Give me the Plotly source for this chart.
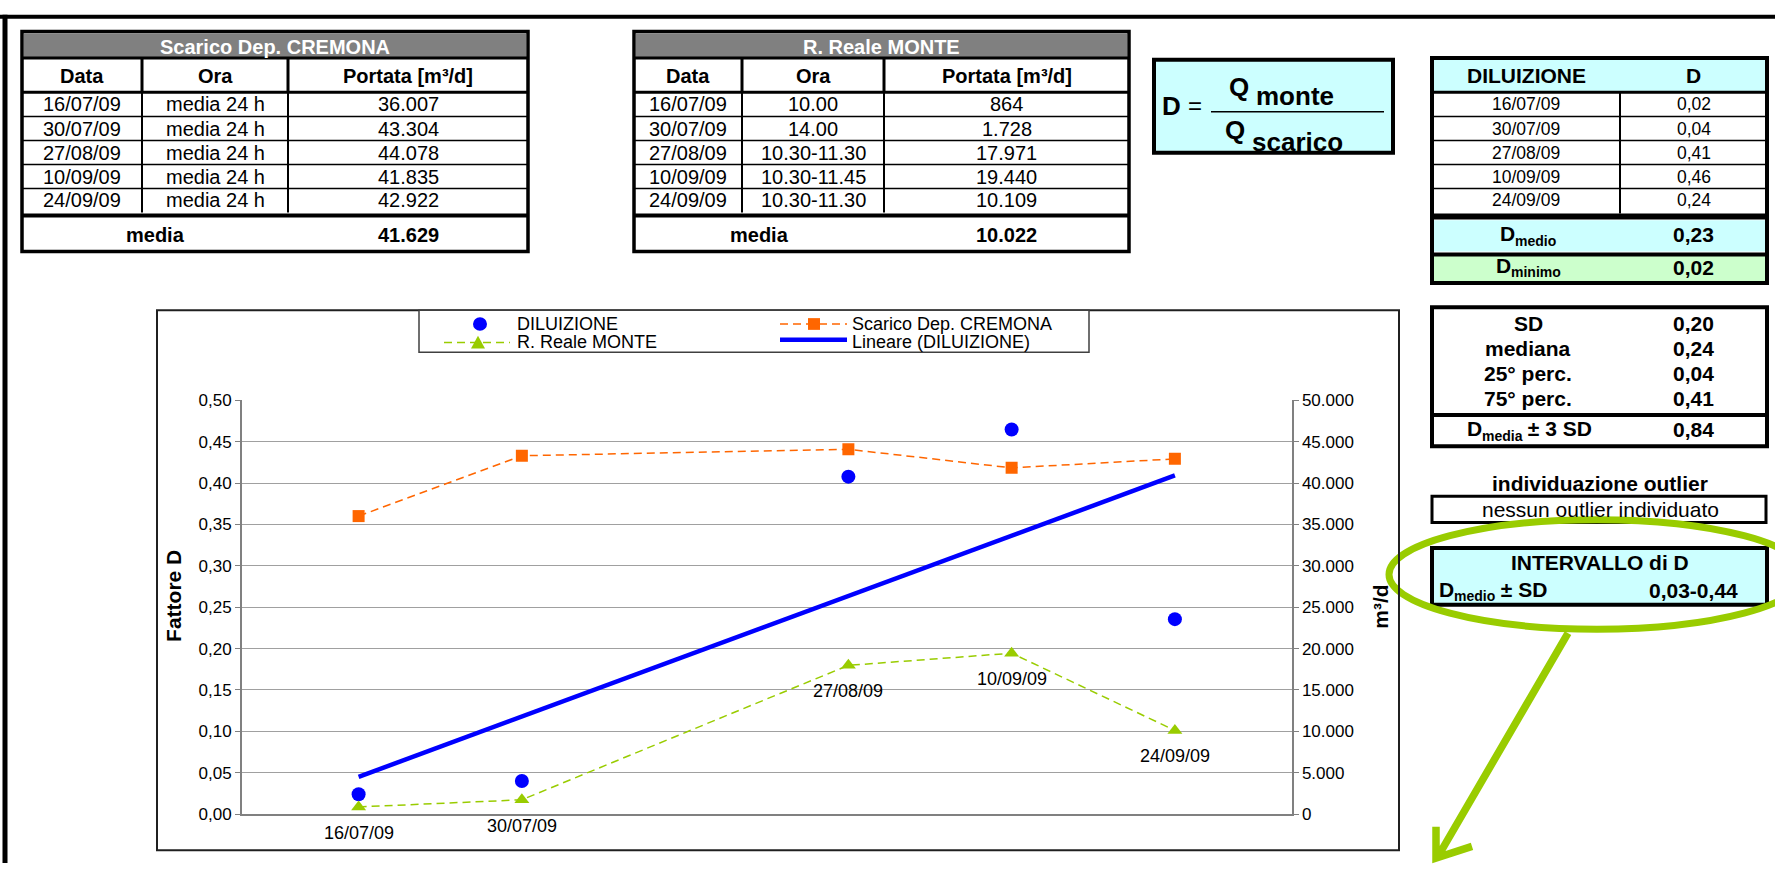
import numpy as np
import pandas as pd
import plotly.graph_objects as go

# ---------------------------------------------------------------- data
sample_dates = ["2009-07-16", "2009-07-30", "2009-08-27", "2009-09-10", "2009-09-24"]
date_labels = ["16/07/09", "30/07/09", "27/08/09", "10/09/09", "24/09/09"]

scarico_ora = ["media 24 h", "media 24 h", "media 24 h", "media 24 h", "media 24 h"]
scarico_portata = [36007, 43304, 44078, 41835, 42922]          # m3/d

monte_ora = ["10.00", "14.00", "10.30-11.30", "10.30-11.45", "10.30-11.30"]
monte_portata = [864, 1728, 17971, 19440, 10109]               # m3/d

stat_names = ["SD", "mediana", "25° perc.", "75° perc."]

left_ticks = [0.0, 0.05, 0.10, 0.15, 0.20, 0.25, 0.30, 0.35, 0.40, 0.45, 0.50]
right_ticks = [0, 5000, 10000, 15000, 20000, 25000, 30000, 35000, 40000, 45000, 50000]

# ------------------------------------------------------- derived values
q_sc = np.array(scarico_portata, dtype=float)
q_mo = np.array(monte_portata, dtype=float)
dil = q_mo / q_sc                                   # D = Q monte / Q scarico

dts = pd.to_datetime(sample_dates)
days = np.array([(d - dts[0]).days for d in dts], dtype=float)
slope, intercept = np.polyfit(days, dil, 1)         # linear trend of D
trend_x = [sample_dates[0], sample_dates[-1]]
trend_y = [intercept + slope * days[0], intercept + slope * days[-1]]

d_mean = dil.mean()
d_sd = dil.std(ddof=1)
stat_vals = [d_sd, np.median(dil), np.percentile(dil, 25), np.percentile(dil, 75)]
d_lim = d_mean + 3 * d_sd


def dec(v, n=2):
    return f"{v:.{n}f}".replace(".", ",")


def thou(v):
    return f"{int(round(v)):,}".replace(",", ".")


# ------------------------------------------------------ page geometry
W, H = 1775, 873
FONT = "Liberation Sans, Arial, sans-serif"
shapes, annotations = [], []

# Arial-bold advance widths (em) for the subscripted labels
BOLD_EM = {"D": .722, " ": .278, "±": .584, "3": .556, "S": .667, "m": .889, "e": .556,
           "d": .611, "i": .278, "o": .611, "n": .611, "a": .556}


def em_width(text, size):
    return sum(BOLD_EM.get(c, .6) for c in text) * size


def X(px):
    return px / W


def Y(py):
    return 1 - py / H


def box(x0, y0, x1, y1, fill=None, line="black", lw=0):
    shapes.append(dict(type="rect", xref="paper", yref="paper",
                       x0=X(x0), x1=X(x1), y0=Y(y1), y1=Y(y0),
                       fillcolor=fill or "rgba(0,0,0,0)",
                       line=dict(color=line, width=lw), layer="above"))


def seg(x0, y0, x1, y1, lw=1.5, color="black", dash=None):
    shapes.append(dict(type="line", xref="paper", yref="paper",
                       x0=X(x0), y0=Y(y0), x1=X(x1), y1=Y(y1),
                       line=dict(color=color, width=lw, dash=dash)))


def label(x, y, text, size, bold=False, color="black", xanchor="center", angle=0):
    annotations.append(dict(xref="paper", yref="paper", x=X(x), y=Y(y),
                            text=f"<b>{text}</b>" if bold else text,
                            showarrow=False, xanchor=xanchor, yanchor="middle",
                            textangle=angle,
                            font=dict(size=size, color=color, family=FONT)))


def d_label(x, y, sub, tail="", size=21, sub_size=14, anchor="center"):
    """Bold 'D' with a lowered, smaller qualifier and optional trailing text."""
    total = em_width("D", size) + em_width(sub, sub_size) + em_width(tail, size)
    left = x - total / 2 if anchor == "center" else x
    label(left, y, "D", size, bold=True, xanchor="left")
    sx = left + em_width("D", size)
    label(sx, y + 7, sub, sub_size, bold=True, xanchor="left")
    if tail:
        label(sx + em_width(sub, sub_size), y, tail.replace(" ", "\u00a0"), size,
              bold=True, xanchor="left")


# page frame
seg(0, 8, W, 8, lw=4)
seg(5, 6, 5, H, lw=5)

# ------------------------------------------------------ flow tables
ROWS = [85, 110, 134.5, 159, 183.5, 208]


def flow_table(cols, title, ora, portata):
    x0, x1 = cols[0], cols[-1]
    box(x0, 23, x1, 249, fill="white")
    box(x0 + 2, 25, x1 - 2, 50, fill="#808080")
    label((x0 + x1) / 2, 38.5, title, 20, bold=True, color="white")
    seg(x0, 50, x1, 50, lw=3)
    heads = ["Data", "Ora", "Portata [m³/d]"]
    for i, h in enumerate(heads):
        label((cols[i] + cols[i + 1]) / 2, 68, h, 20, bold=True)
    seg(x0, ROWS[0], x1, ROWS[0], lw=3)
    for xc in cols[1:-1]:
        seg(xc, 50, xc, ROWS[0], lw=3)
        seg(xc, ROWS[0], xc, ROWS[-1], lw=2)
    for r in range(5):
        yc = (ROWS[r] + ROWS[r + 1]) / 2
        cells = [date_labels[r], ora[r], thou(portata[r])]
        for i, c in enumerate(cells):
            label((cols[i] + cols[i + 1]) / 2, yc, c, 20)
        if r < 4:
            seg(x0, ROWS[r + 1], x1, ROWS[r + 1], lw=1.5)
    seg(x0, 211, x1, 211, lw=4)
    label((cols[0] + cols[2]) / 2, 231, "media", 20, bold=True)
    label((cols[2] + cols[3]) / 2, 231, thou(np.mean(portata)), 20, bold=True)
    box(x0, 23, x1, 248, line="black", lw=3.5)


flow_table([22, 142, 288, 528], "Scarico Dep. CREMONA", scarico_ora, scarico_portata)
flow_table([634, 742, 884, 1129], "R. Reale MONTE", monte_ora, monte_portata)

# ------------------------------------------------------ formula box
box(1154, 52, 1393, 147, fill="#CCFFFF", line="black", lw=4)
label(1171, 99, "D", 26, bold=True)
label(1195, 99, "=", 24)
seg(1211, 105, 1384, 105, lw=1.5)
label(1239, 80, "Q", 26, bold=True)
label(1254, 89, "monte", 26, bold=True, xanchor="left")
label(1235, 124, "Q", 26, bold=True)
label(1250, 136, "scarico", 26, bold=True, xanchor="left")

# ------------------------------------------------------ dilution table
T3 = [1432, 1620, 1767]
C1, C2 = (T3[0] + T3[1]) / 2, (T3[1] + T3[2]) / 2
box(T3[0], 50, T3[2], 84, fill="#CCFFFF")
label(C1, 68, "DILUIZIONE", 21, bold=True)
label(C2, 68, "D", 21, bold=True)
seg(T3[0], 85, T3[2], 85, lw=3)
seg(T3[1], 85, T3[1], 209, lw=2)
for r in range(5):
    yc = (ROWS[r] + ROWS[r + 1]) / 2
    label(C1, yc, date_labels[r], 17.5)
    label(C2, yc, dec(dil[r]), 17.5)
    if r < 4:
        seg(T3[0], ROWS[r + 1], T3[2], ROWS[r + 1], lw=1.5)
box(T3[0], 216, T3[2], 248, fill="#CCFFFF")
seg(T3[0], 212, T3[2], 212, lw=6)
d_label(C1, 230, "medio")
label(C2, 231, dec(d_mean), 21, bold=True)
box(T3[0], 252, T3[2], 279, fill="#CCFFCC")
seg(T3[0], 251, T3[2], 251, lw=4)
d_label(C1, 262, "minimo")
label(C2, 264, dec(dil.min()), 21, bold=True)
box(T3[0], 50, T3[2], 280, line="black", lw=4)

# ------------------------------------------------------ statistics box
box(T3[0], 305, T3[2], 447, fill="white", line="black", lw=4)
for i, (nm, v) in enumerate(zip(stat_names, stat_vals)):
    yc = 322 + i * 25.3
    label(1528, yc, nm, 21, bold=True)
    label(C2, yc, dec(v), 21, bold=True)
seg(T3[0], 415, T3[2], 415, lw=4)
d_label(1528, 429, "media", " ± 3 SD")
label(C2, 430, dec(d_lim), 21, bold=True)

label(1600, 485, "individuazione outlier", 21, bold=True)
box(T3[0], 498, 1766, 525, fill="white", line="black", lw=3)
label(1600, 512, "nessun outlier individuato", 21)

box(T3[0], 551, T3[2], 609, fill="#CCFFFF", line="black", lw=4)
label(1600, 566, "INTERVALLO di D", 21, bold=True)
d_label(1437, 593, "medio", " ± SD", anchor="left")
label(1693, 594, f"{dec(d_mean - d_sd)}-{dec(d_mean + d_sd)}", 21, bold=True)

# highlight ellipse and pointer
GREEN = "#99CC00"
shapes.append(dict(type="circle", xref="paper", yref="paper",
                   x0=X(1389), x1=X(1805), y0=Y(634), y1=Y(522),
                   line=dict(color=GREEN, width=7), layer="above"))
shapes.append(dict(type="path", xref="paper", yref="paper",
                   path=(f"M {X(1568)},{Y(638)} L {X(1437)},{Y(868)} "
                         f"M {X(1436)},{Y(836)} L {X(1436)},{Y(868)} L {X(1472)},{Y(856)}"),
                   line=dict(color=GREEN, width=7.5), layer="above"))

# ------------------------------------------------------ chart
BLUE, ORANGE = "#0000FF", "#FF6600"
box(157, 308, 1399, 860, line="#202020", lw=2)

fig = go.Figure()
fig.add_trace(go.Scatter(x=sample_dates, y=dil, mode="markers", name="DILUIZIONE",
                         marker=dict(symbol="circle", size=14, color=BLUE),
                         yaxis="y", showlegend=False))
fig.add_trace(go.Scatter(x=trend_x, y=trend_y, mode="lines", name="Lineare (DILUIZIONE)",
                         line=dict(color=BLUE, width=4.5), yaxis="y", showlegend=False))
fig.add_trace(go.Scatter(x=sample_dates, y=scarico_portata, mode="lines+markers",
                         name="Scarico Dep. CREMONA",
                         line=dict(color=ORANGE, width=1.5, dash="8px,5px"),
                         marker=dict(symbol="square", size=12, color=ORANGE),
                         yaxis="y2", showlegend=False))
fig.add_trace(go.Scatter(x=sample_dates, y=monte_portata, mode="lines+markers",
                         name="R. Reale MONTE",
                         line=dict(color=GREEN, width=1.5, dash="8px,5px"),
                         marker=dict(symbol="triangle-up", size=13, color=GREEN),
                         yaxis="y2", showlegend=False))

# date labels under the R. Reale MONTE points
for d, q, t in zip(sample_dates, monte_portata, date_labels):
    annotations.append(dict(xref="x", yref="y2", x=d, y=q, text=t, showarrow=False,
                            yshift=-26, xanchor="center", yanchor="middle",
                            font=dict(size=18, color="black", family=FONT)))

# axis titles
label(174, 600, "Fattore D", 21, bold=True, angle=-90)
label(1381, 611, "m³/d", 21, bold=True, angle=-90)

# legend
box(419, 308, 1089, 351, fill="white", line="#404040", lw=1.5)
shapes.append(dict(type="circle", xref="paper", yref="paper",
                   x0=X(473), x1=X(487), y0=Y(329), y1=Y(315),
                   fillcolor=BLUE, line=dict(width=0), layer="above"))
label(515, 322, "DILUIZIONE", 18, xanchor="left")
seg(780, 322, 847, 322, lw=1.5, color=ORANGE, dash="8px,5px")
box(808, 316, 820, 328, fill=ORANGE)
label(850, 322, "Scarico Dep. CREMONA", 18, xanchor="left")
seg(444, 341, 510, 341, lw=1.5, color=GREEN, dash="8px,5px")
shapes.append(dict(type="path", xref="paper", yref="paper",
                   path=f"M {X(471)},{Y(347)} L {X(485)},{Y(347)} L {X(478)},{Y(334)} Z",
                   fillcolor=GREEN, line=dict(width=0), layer="above"))
label(515, 340, "R. Reale MONTE", 18, xanchor="left")
seg(780, 338, 847, 338, lw=4.5, color=BLUE)
label(850, 340, "Lineare (DILUIZIONE)", 18, xanchor="left")

fig.update_layout(
    width=W, height=H,
    margin=dict(l=0, r=0, t=0, b=0),
    paper_bgcolor="white", plot_bgcolor="white",
    separators=",.",
    showlegend=False,
    font=dict(family=FONT, color="black"),
    xaxis=dict(type="date", domain=[X(242), X(1291.5)],
               range=["2009-07-06", "2009-10-04"],
               showline=True, linecolor="#808080", linewidth=2,
               showgrid=False, zeroline=False, showticklabels=False, ticks=""),
    yaxis=dict(domain=[Y(823), Y(400)], range=[0, 0.5],
               tickvals=left_ticks, tickformat=".2f",
               showgrid=True, gridcolor="#A0A0A0", gridwidth=1.3,
               showline=True, linecolor="#808080", linewidth=2,
               ticks="outside", ticklen=5, tickcolor="#808080",
               zeroline=False, tickfont=dict(size=17, family=FONT)),
    yaxis2=dict(overlaying="y", side="right", anchor="x", range=[0, 50000],
                tickvals=right_ticks, tickformat=",.0f",
                showgrid=False, zeroline=False,
                showline=True, linecolor="#808080", linewidth=2,
                ticks="outside", ticklen=5, tickcolor="#808080",
                tickfont=dict(size=17, family=FONT)),
    shapes=shapes,
    annotations=annotations,
)

fig.write_html("out.html")
